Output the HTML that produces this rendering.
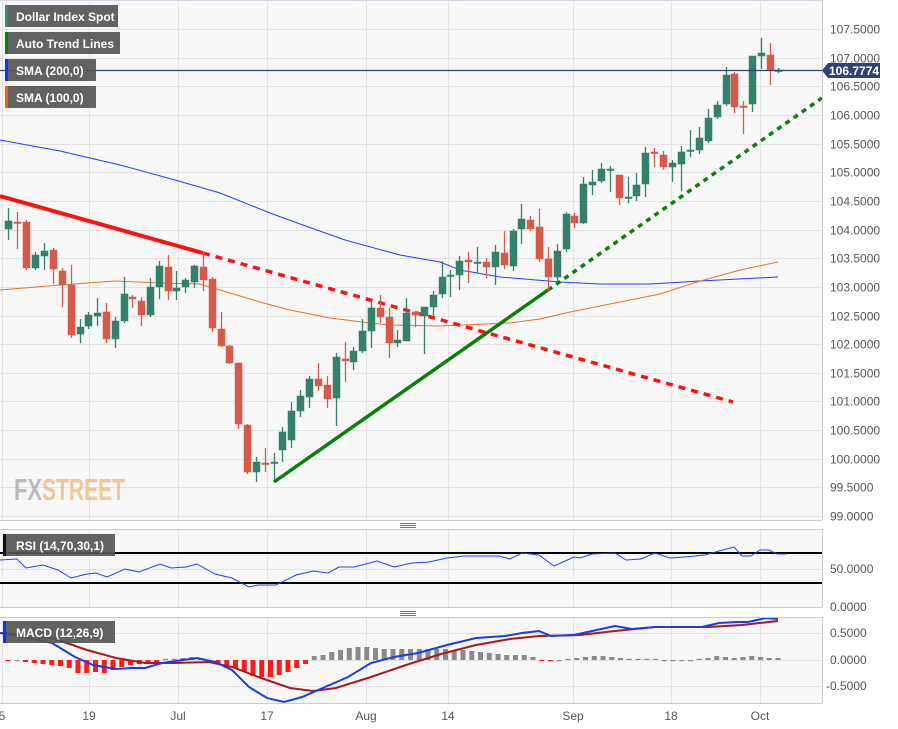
<!DOCTYPE html>
<html><head><meta charset="utf-8"><style>
html,body{margin:0;padding:0;background:#fff;}
svg{display:block;font-family:"Liberation Sans",Arial,sans-serif;}
</style></head><body>
<svg id="s" width="898" height="729" viewBox="0 0 898 729" xmlns="http://www.w3.org/2000/svg">
<rect x="0" y="0" width="898" height="729" fill="#fff"/>
<rect x="0" y="0" width="822" height="520" fill="#f7f7f7"/>
<rect x="0" y="529" width="822" height="78" fill="#f7f7f7"/>
<rect x="0" y="617" width="822" height="86" fill="#f7f7f7"/>
<line x1="0" y1="0.5" x2="822" y2="0.5" stroke="#d0d8e8"/>
<g id="grid" stroke="#e3e3e3" stroke-width="1"></g>
<g id="wm" font-weight="bold" font-size="31" opacity="0.55" style="font-family:'Liberation Sans Narrow','Liberation Sans',sans-serif">
<text x="14" y="500" fill="#8a8a8a" textLength="28" lengthAdjust="spacingAndGlyphs">FX</text>
<text x="42" y="500" fill="#e8a050" textLength="83" lengthAdjust="spacingAndGlyphs">STREET</text>
</g>
<g id="lines"></g>
<g id="candles"></g>
<g id="ind"></g>
<line x1="0" y1="70.5" x2="822" y2="70.5" stroke="#2d4470" stroke-width="1.2"/>
<line x1="822.5" y1="0" x2="822.5" y2="520" stroke="#c8ccd6"/>
<line x1="822.5" y1="529" x2="822.5" y2="607" stroke="#c8ccd6"/>
<line x1="822.5" y1="617" x2="822.5" y2="703" stroke="#c8ccd6"/>
<line x1="0" y1="520.5" x2="822" y2="520.5" stroke="#c8ccd6"/>
<line x1="0" y1="529.5" x2="822" y2="529.5" stroke="#c8ccd6"/>
<line x1="0" y1="607.5" x2="822" y2="607.5" stroke="#c8ccd6"/>
<line x1="0" y1="617.5" x2="822" y2="617.5" stroke="#c8ccd6"/>
<line x1="0" y1="703.5" x2="822" y2="703.5" stroke="#c8ccd6"/>
<g stroke="#777" stroke-width="1">
<line x1="400" y1="523.5" x2="416" y2="523.5"/><line x1="400" y1="525.5" x2="416" y2="525.5"/><line x1="400" y1="527.5" x2="416" y2="527.5"/>
<line x1="400" y1="611.5" x2="416" y2="611.5"/><line x1="400" y1="613.5" x2="416" y2="613.5"/><line x1="400" y1="615.5" x2="416" y2="615.5"/>
</g>
<g id="axis" font-size="12" fill="#555"></g>
<path d="M822,70.5 L828,63 L880,63 L880,78 L828,78 Z" fill="#2d4470"/>
<text x="829" y="75" font-size="12" font-weight="bold" fill="#fff">106.7774</text>
<g font-size="12" font-weight="bold" fill="#fff">
<rect x="5" y="5" width="113" height="22" fill="#555" opacity="0.92"/><rect x="5" y="5" width="3" height="22" fill="#3a8a7a"/>
<text x="16" y="21">Dollar Index Spot</text>
<rect x="5" y="32" width="115" height="22" fill="#555" opacity="0.92"/><rect x="5" y="32" width="3" height="22" fill="#0a7a0a"/>
<text x="16" y="48">Auto Trend Lines</text>
<rect x="5" y="59" width="91" height="22" fill="#555" opacity="0.92"/><rect x="5" y="59" width="3" height="22" fill="#1030ff"/>
<text x="16" y="75">SMA (200,0)</text>
<rect x="5" y="86" width="91" height="22" fill="#555" opacity="0.92"/><rect x="5" y="86" width="3" height="22" fill="#f06010"/>
<text x="16" y="102">SMA (100,0)</text>
<rect x="3" y="534" width="112" height="22" fill="#555" opacity="0.92"/><rect x="3" y="534" width="3" height="22" fill="#111"/>
<text x="16" y="550" style="font-family:'Liberation Sans Narrow','Liberation Sans',sans-serif" font-size="12">RSI (14,70,30,1)</text>
<rect x="3" y="621" width="112" height="22" fill="#555" opacity="0.92"/><rect x="3" y="621" width="3" height="22" fill="#1030ff"/>
<text x="16" y="637" style="font-family:'Liberation Sans Narrow','Liberation Sans',sans-serif" font-size="12">MACD (12,26,9)</text>
</g>
</svg>
<script>
var NS="http://www.w3.org/2000/svg";
function el(p,t,a){var e=document.createElementNS(NS,t);for(var k in a)e.setAttribute(k,a[k]);p.appendChild(e);return e;}
var grid=document.getElementById('grid'),axis=document.getElementById('axis');
for(var i=0;i<=17;i++){var v=107.5-i*0.5,y=Math.round(29+i*28.65)+0.5;
 el(grid,'line',{x1:0,y1:y,x2:822,y2:y});
 var t=el(axis,'text',{x:830,y:y+4});t.textContent=v.toFixed(4);}
[[569,'50.0000'],[607,'0.0000']].forEach(function(a){el(grid,'line',{x1:0,y1:a[0]+.5,x2:822,y2:a[0]+.5});var t=el(axis,'text',{x:830,y:a[0]+4});t.textContent=a[1];});
[[633,'0.5000'],[660,'0.0000'],[686,'-0.5000']].forEach(function(a){el(grid,'line',{x1:0,y1:a[0]+.5,x2:822,y2:a[0]+.5});var t=el(axis,'text',{x:a[1][0]=='-'?826:830,y:a[0]+4});t.textContent=a[1];});
[[2,'5'],[89,'19'],[178,'Jul'],[267,'17'],[366,'Aug'],[448,'14'],[573,'Sep'],[671,'18'],[760,'Oct']].forEach(function(a){
 [[0,520],[529,607],[617,703]].forEach(function(r){el(grid,'line',{x1:a[0]+.5,y1:r[0],x2:a[0]+.5,y2:r[1]});});
 var t=el(axis,'text',{x:a[0],y:720,'text-anchor':'middle'});t.textContent=a[1];});
var L=document.getElementById('lines');
function pl(p,pts,a){a.points=pts.map(function(q){return q.join(',')}).join(' ');a.fill='none';el(p,'polyline',a);}
pl(L,[[0,140],[60,151],[120,165],[175,180],[220,193],[270,213],[300,224],[345,240],[400,255],[440,262],[460,270],[500,277],[560,282],[600,284],[650,284],[700,281],[778,277]],{stroke:'#2040ff','stroke-width':1});
pl(L,[[0,290],[60,285],[115,281],[160,283],[200,284],[230,293],[260,302],[290,310],[330,318],[370,323],[390,325],[440,326],[510,323],[540,319],[570,312],[620,302],[660,294],[697,282],[740,270],[778,262]],{stroke:'#f07020','stroke-width':1});
el(L,'line',{x1:0,y1:196,x2:203,y2:253,stroke:'#ff1010','stroke-width':4});
el(L,'line',{x1:203,y1:253,x2:733,y2:402,stroke:'#ff1010','stroke-width':3.5,'stroke-dasharray':'7,6'});
el(L,'line',{x1:274,y1:482,x2:548,y2:290,stroke:'#0a800a','stroke-width':3.5});
el(L,'line',{x1:548,y1:290,x2:822,y2:98,stroke:'#0a800a','stroke-width':3.5,'stroke-dasharray':'5,5'});
var C=[[8,229,221,208,240],[17,222,222,212,249],[26,222,268,220,270],[35,268,255,252,270],[44,256,251,243,270],[53,250,269,248,284],[62,271,285,268,307],[71,285,335,265,338],[80,334,327,319,343],[88,326,315,312,329],[97,316,313,298,326],[106,312,339,303,343],[115,339,321,317,348],[124,321,294,277,323],[132,297,299,295,308],[141,301,315,297,326],[150,315,287,278,317],[159,287,266,261,299],[168,267,291,255,300],[176,291,288,271,300],[185,287,280,278,293],[194,282,266,265,288],[203,267,280,252,291],[212,279,328,277,332],[221,329,346,312,347],[229,346,363,345,364],[238,363,424,363,429],[247,425,472,424,474],[256,472,462,457,482],[265,463,463,448,472],[274,463,462,453,480],[282,450,432,427,462],[291,440,411,402,448],[300,411,396,390,417],[309,397,379,376,408],[318,379,386,363,391],[327,385,399,376,408],[336,398,357,353,426],[345,359,361,342,382],[353,362,351,347,370],[362,351,331,319,353],[371,331,308,300,348],[380,308,317,295,323],[389,317,343,308,358],[397,343,340,330,347],[406,341,313,298,341],[415,312,315,311,327],[424,316,307,307,354],[433,307,295,291,318],[442,294,277,261,298],[450,276,275,270,297],[459,275,261,256,290],[468,260,262,252,283],[477,262,262,247,273],[486,262,267,258,278],[495,267,252,245,285],[504,253,265,231,269],[513,266,231,229,271],[521,229,219,204,244],[530,220,229,216,231],[539,227,259,209,262],[548,259,277,247,292],[557,277,251,244,283],[566,249,214,212,252],[574,216,223,213,228],[583,223,184,177,224],[592,185,182,170,195],[601,181,169,163,183],[610,170,169,166,192],[619,175,198,175,205],[628,198,197,177,203],[636,196,185,173,201],[645,184,153,147,197],[654,152,153,148,167],[663,155,167,151,170],[672,167,163,160,182],[681,164,152,146,191],[690,151,150,130,157],[699,150,138,127,154],[708,141,118,109,143],[717,117,105,101,119],[726,104,75,67,106],[734,74,107,72,113],[743,106,106,101,134],[752,104,56,56,112],[761,56,53,38,69],[770,55,70,43,85],[778,71,70,68,73]];
var G=document.getElementById('candles');
C.forEach(function(c){var col=c[2]<c[1]?'#34806c':(c[2]>c[1]?'#d65a4a':'#34806c');
 if(c[0]==17||c[0]==265||c[0]==743)col='#d65a4a';
 el(G,'line',{x1:c[0]+.5,y1:c[3],x2:c[0]+.5,y2:c[4],stroke:col,'stroke-width':1.3});
 var t=Math.min(c[1],c[2]),h=Math.max(Math.abs(c[1]-c[2]),1.5);
 el(G,'rect',{x:c[0]-3,y:t,width:7,height:h,fill:col,stroke:col,'stroke-opacity':0.5,'stroke-width':1});});
var I=document.getElementById('ind');
el(I,'line',{x1:0,y1:553,x2:822,y2:553,stroke:'#000','stroke-width':2});
el(I,'line',{x1:0,y1:583,x2:822,y2:583,stroke:'#000','stroke-width':2});
pl(I,[[0,560],[17,559],[26,568],[43,565],[58,570],[71,578],[87,574],[96,573],[107,577],[125,569],[139,572],[160,564],[171,568],[186,567],[197,564],[215,574],[232,578],[249,587],[258,585],[276,585],[296,575],[313,571],[328,573],[339,567],[354,567],[377,561],[394,567],[412,563],[429,562],[447,558],[464,556],[487,556],[499,556],[510,559],[522,553],[539,555],[554,566],[574,557],[580,558],[592,554],[615,553],[626,560],[641,559],[655,553],[670,558],[684,557],[705,555],[719,551],[734,547],[742,556],[751,556],[760,550],[769,550],[777,554],[786,554]],{stroke:'#2040ff','stroke-width':1});
var H=[-1,0,-2,-3,-4,-5,-6,-8,-13,-13,-12,-13,-10,-7,-5,-4,-3,-2,1,1,2,3,2,-2,-4,-5,-8,-12,-16,-17,-17,-15,-12,-8,-4,4,5,8,10,12,13,13,12,11,11,11,11,11,11,11,11,10,10,9,8,7,6,5,5,5,3,-1,-1,0,1,2,3,4,4,3,2,1,1,1,1,0,0,0,0,1,2,4,3,2,3,4,3,2,2];
H.forEach(function(h,i){var x=8+i*8.75;var hh=Math.max(Math.abs(h),1.2);
 el(I,'rect',{x:x-2.5,y:h>0?660-hh:660,width:5,height:hh,fill:h<0?'#ff1a1a':'#8a8a8a'});});
pl(I,[[0,633],[35,635],[58,640],[87,650],[116,658],[145,663],[174,663],[209,662],[232,667],[261,678],[290,688],[313,691],[336,688],[371,677],[406,665],[441,654],[476,645],[510,639],[539,636],[580,635],[615,631],[655,627],[708,627],[742,625],[778,621]],{stroke:'#b01818','stroke-width':2});
pl(I,[[0,633],[29,638],[52,643],[75,657],[93,665],[116,669],[131,668],[145,668],[162,663],[197,658],[215,662],[232,670],[249,687],[267,698],[284,702],[302,697],[325,687],[348,677],[371,663],[394,657],[418,653],[447,645],[476,638],[505,636],[522,633],[539,631],[551,636],[574,635],[592,631],[615,626],[632,629],[655,627],[702,627],[719,623],[737,622],[748,622],[766,618],[778,619]],{stroke:'#1a3cf0','stroke-width':2});
</script>
</body></html>
